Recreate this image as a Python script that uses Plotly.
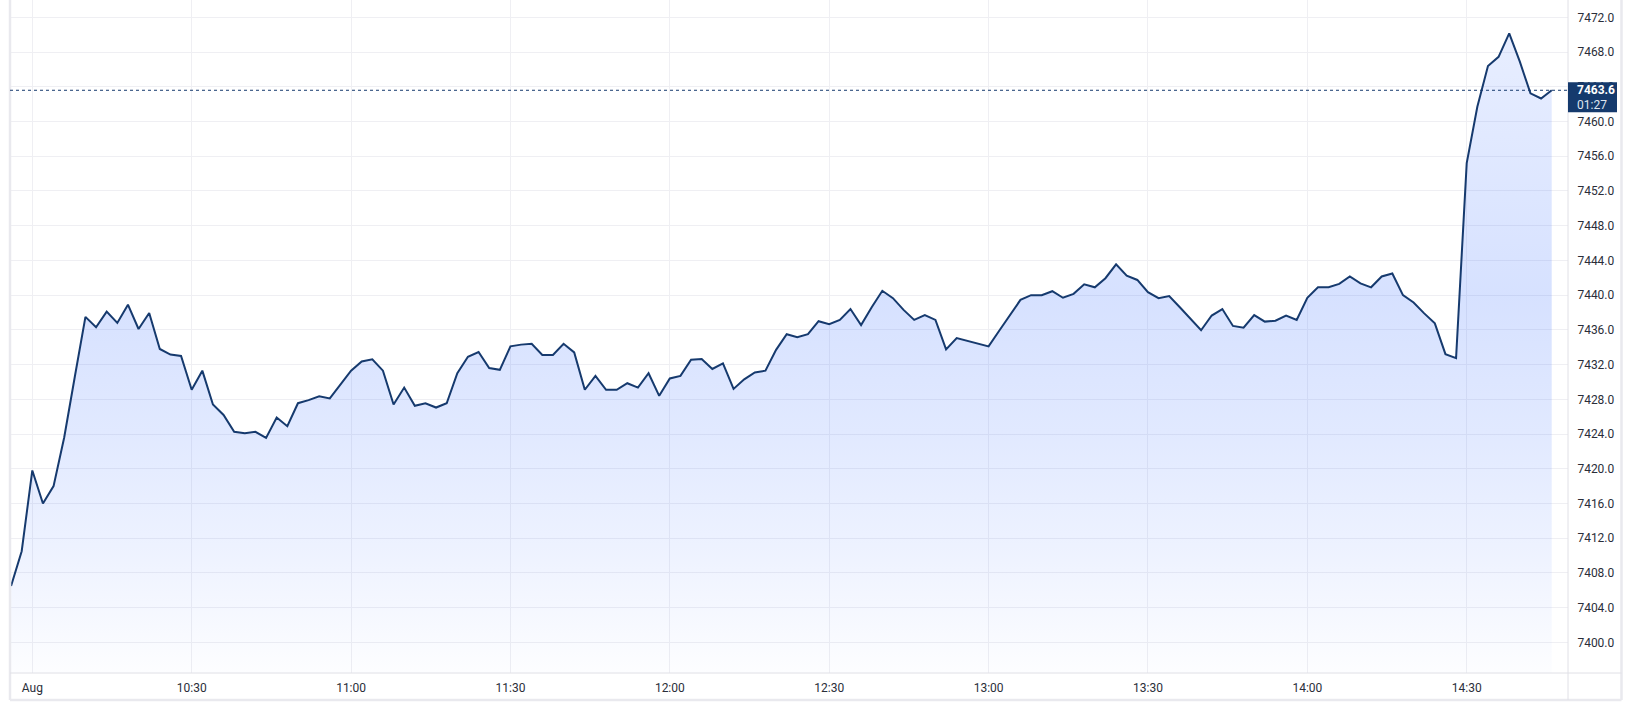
import plotly.graph_objects as go
import pandas as pd

# ---- data (2-minute closes) ----
prices = [
    7406.5, 7410.5, 7419.8, 7416.0, 7418.0, 7423.6, 7430.6, 7437.5, 7436.3, 7438.1,
    7436.8, 7438.9, 7436.1, 7437.95, 7433.8, 7433.15, 7433.0, 7429.1, 7431.3, 7427.4,
    7426.2, 7424.25, 7424.1, 7424.25, 7423.55, 7425.9, 7424.9, 7427.55, 7427.9, 7428.35,
    7428.1, 7429.7, 7431.3, 7432.35, 7432.6, 7431.3, 7427.4, 7429.35, 7427.25, 7427.55,
    7427.05, 7427.55, 7431.0, 7432.9, 7433.45, 7431.6, 7431.4, 7434.1, 7434.3, 7434.4,
    7433.1, 7433.1, 7434.4, 7433.4, 7429.1, 7430.7, 7429.1, 7429.1, 7429.85, 7429.35,
    7431.0, 7428.4, 7430.4, 7430.7, 7432.55, 7432.65, 7431.5, 7432.15, 7429.2, 7430.3,
    7431.1, 7431.3, 7433.7, 7435.5, 7435.15, 7435.5, 7437.0, 7436.65, 7437.15, 7438.4,
    7436.55, 7438.6, 7440.5, 7439.65, 7438.3, 7437.15, 7437.7, 7437.15, 7433.75, 7435.05,
    7434.75, 7434.4, 7434.1, 7435.9, 7437.7, 7439.45, 7440.0, 7440.0, 7440.45, 7439.7,
    7440.15, 7441.25, 7440.9, 7441.95, 7443.55, 7442.25, 7441.75, 7440.35, 7439.65, 7439.9,
    7438.6, 7437.3, 7435.95, 7437.65, 7438.4, 7436.45, 7436.25, 7437.7, 7436.95, 7437.05,
    7437.65, 7437.15, 7439.7, 7440.9, 7440.9, 7441.3, 7442.15, 7441.35, 7440.9, 7442.15,
    7442.5, 7440.0, 7439.15, 7437.9, 7436.75, 7433.2, 7432.75, 7455.2, 7461.7, 7466.4,
    7467.45, 7470.15, 7466.9, 7463.25, 7462.65, 7463.6,
]
start_time = "2024-08-01 09:56"
bar_interval = "2min"
times = pd.date_range(start_time, periods=len(prices), freq=bar_interval)

x_tick_vals = ["2024-08-01 10:00", "2024-08-01 10:30", "2024-08-01 11:00",
               "2024-08-01 11:30", "2024-08-01 12:00", "2024-08-01 12:30",
               "2024-08-01 13:00", "2024-08-01 13:30", "2024-08-01 14:00",
               "2024-08-01 14:30"]
x_tick_text = ["Aug", "10:30", "11:00", "11:30", "12:00", "12:30",
               "13:00", "13:30", "14:00", "14:30"]
y_tick_vals = [7400, 7404, 7408, 7412, 7416, 7420, 7424, 7428, 7432, 7436,
               7440, 7444, 7448, 7452, 7456, 7460, 7464, 7468, 7472]
y_tick_text = [f"{v:.1f}" for v in y_tick_vals]

last_price = prices[-1]
last_price_text = "7463.6"
countdown_text = "01:27"

x_range = ["2024-08-01 09:55:48", "2024-08-01 14:49:04"]
y_range = [7396.47, 7474.0]

# ---- styling ----
LINE = "#163a6e"
GRID = "#efeff3"
BORDER = "#e9e9ee"
AXLINE = "#e0e0e6"
TEXT = "#2a2e39"
FONT = "Roboto"

W, H = 1632, 706
ML, MR, MT, MB = 10, 64, 0, 33
pw = W - ML - MR
ph = H - MT - MB
right_edge = (1621.5 - ML) / pw
bottom_edge = -(700 - (H - MB)) / ph

fig = go.Figure()
fig.add_trace(go.Scatter(
    x=times, y=prices, mode="lines",
    line=dict(color=LINE, width=2),
    fill="tozeroy",
    fillgradient=dict(
        type="vertical", start=y_range[0], stop=y_range[1],
        colorscale=[
            [0.0, "rgba(41,98,255,0.01)"],
            [0.18, "rgba(41,98,255,0.08)"],
            [0.36, "rgba(41,98,255,0.14)"],
            [0.56, "rgba(41,98,255,0.19)"],
            [0.80, "rgba(41,98,255,0.14)"],
            [1.0, "rgba(41,98,255,0.10)"],
        ],
    ),
    hoverinfo="skip", showlegend=False,
))

fig.update_layout(
    width=W, height=H,
    margin=dict(l=ML, r=MR, t=MT, b=MB, pad=0),
    paper_bgcolor="white", plot_bgcolor="white",
    font=dict(family=FONT, size=12, color=TEXT),
    xaxis=dict(
        type="date", range=x_range,
        tickmode="array", tickvals=x_tick_vals, ticktext=x_tick_text,
        showgrid=True, gridcolor=GRID, gridwidth=1,
        zeroline=False, showline=False,
        ticks="outside", ticklen=4, tickcolor="rgba(0,0,0,0)",
        tickfont=dict(family=FONT, size=12, color=TEXT),
        fixedrange=True,
    ),
    yaxis=dict(
        side="right", range=y_range,
        tickmode="array", tickvals=y_tick_vals, ticktext=y_tick_text,
        showgrid=True, gridcolor=GRID, gridwidth=1,
        zeroline=False, showline=False,
        ticks="outside", ticklen=6, tickcolor="rgba(0,0,0,0)",
        tickfont=dict(family=FONT, size=12, color=TEXT),
        fixedrange=True,
    ),
)

shapes = [
    # outer frame (left, right, bottom)
    dict(type="line", xref="paper", yref="paper", x0=0, x1=0, y0=bottom_edge, y1=1,
         line=dict(color=BORDER, width=2.5)),
    dict(type="line", xref="paper", yref="paper", x0=right_edge, x1=right_edge,
         y0=bottom_edge, y1=1, line=dict(color=BORDER, width=2.5)),
    dict(type="line", xref="paper", yref="paper", x0=0, x1=right_edge,
         y0=bottom_edge, y1=bottom_edge, line=dict(color=BORDER, width=2.5)),
    # time axis line and price axis divider
    dict(type="line", xref="paper", yref="paper", x0=0, x1=right_edge, y0=0, y1=0,
         line=dict(color=AXLINE, width=1)),
    dict(type="line", xref="paper", yref="paper", x0=1, x1=1, y0=bottom_edge, y1=1,
         line=dict(color=AXLINE, width=1)),
    # last price dotted line
    dict(type="line", xref="paper", yref="y", x0=0, x1=1, y0=last_price, y1=last_price,
         line=dict(color=LINE, width=1, dash="dot")),
    # last price label box
    dict(type="rect", xref="paper", yref="y", ysizemode="pixel", yanchor=last_price,
         x0=1, x1=(1617 - ML) / pw, y0=-22, y1=8,
         fillcolor="#153a6d", line=dict(width=0), layer="above"),
]
fig.update_layout(shapes=shapes)

fig.add_annotation(xref="paper", yref="y", x=1, y=last_price, xanchor="left",
                   yanchor="middle", xshift=7, yshift=0, showarrow=False,
                   text=f"<b>{last_price_text}</b>",
                   font=dict(family=FONT, size=12, color="white"))
fig.add_annotation(xref="paper", yref="y", x=1, y=last_price, xanchor="left",
                   yanchor="middle", xshift=7, yshift=-14.5, showarrow=False,
                   text=countdown_text,
                   font=dict(family=FONT, size=12, color="#dfe5ef"))

fig.write_html("out.html", config={"displayModeBar": False},
               post_script="document.body.style.margin='0';document.body.style.overflow='hidden';")
